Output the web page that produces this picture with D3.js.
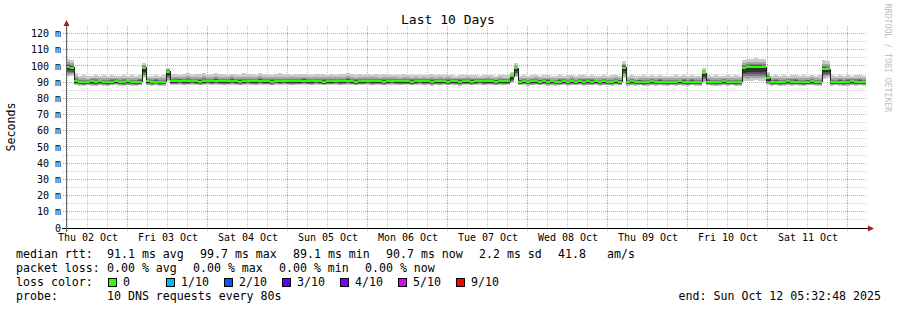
<!DOCTYPE html>
<html><head><meta charset="utf-8">
<script src="https://cdn.jsdelivr.net/npm/d3@7"></script>
<style>
html,body{margin:0;padding:0;background:#fff;}
svg{display:block;font-family:"DejaVu Sans Mono",monospace;}
</style></head><body>
<svg id="chart" width="897" height="310"></svg>
<script>
// ---------- data ----------
const title = "Last 10 Days";
const yAxisLabel = "Seconds";
const watermark = "RRDTOOL / TOBI OETIKER";
const startTime = Date.UTC(2025, 9, 2, 5, 32, 48);
const endTime = Date.UTC(2025, 9, 12, 5, 32, 48);
const binMinutes = 72;
const dayLabels = ["Thu 02 Oct","Fri 03 Oct","Sat 04 Oct","Sun 05 Oct","Mon 06 Oct","Tue 07 Oct","Wed 08 Oct","Thu 09 Oct","Fri 10 Oct","Sat 11 Oct"];
const yTickValues = [0,10,20,30,40,50,60,70,80,90,100,110,120];
const yMax = 123.4;

// median rtt (ms) per 72-minute bin
const median = [
 99.4, 99.0, 90.6,
 90.3, 90.0, 90.2, 90.4, 90.1, 90.5, 90.2, 90.0, 90.3, 90.6, 90.2, 90.1, 90.4, 90.2, 90.0, 90.3,
 98.8,
 90.4, 90.1, 90.3, 90.0, 90.2,
 96.5,
 90.5, 90.6, 90.9, 90.4, 90.6, 90.8, 90.5, 90.3, 90.6, 90.7,
 90.5, 90.8, 90.6, 90.4, 90.5, 90.9, 90.6, 90.3, 90.5, 90.7,
 90.6, 90.4, 90.8, 90.5, 90.6, 90.3, 90.7, 90.5, 90.8, 90.6,
 90.4, 90.6, 90.5, 90.9, 90.6, 90.4, 90.7, 90.5, 90.3, 90.6,
 90.5, 90.7, 90.4, 90.6, 90.8, 90.5, 90.3, 90.6, 90.5, 90.7,
 90.4, 90.6, 90.5, 90.3, 90.6, 90.8, 90.5, 90.4, 90.6, 90.5,
 90.3, 90.5, 90.7, 90.4, 90.6, 90.2, 90.5, 90.4, 90.6, 90.3,
 90.5, 90.4, 90.2, 90.6, 90.5, 90.3, 90.5, 90.7, 90.4, 90.6,
 90.5, 90.3, 90.6, 90.4, 90.5,
 93.5, 98.6,
 90.3, 90.5, 90.2, 90.4, 90.6, 90.3, 90.5, 90.2, 90.4, 90.1, 90.3, 90.5, 90.2, 90.4, 90.3, 90.6, 90.2, 90.4, 90.3, 90.5, 90.1, 90.4, 90.3, 90.2, 90.5, 90.3,
 99.0,
 90.2, 90.4, 90.1, 90.3, 90.0, 90.2, 90.4, 90.1, 90.3, 90.2, 90.0, 90.3, 90.1, 90.4, 90.2, 90.0, 90.3, 90.1, 90.2,
 95.5,
 90.3, 90.1, 90.0, 90.2, 90.4, 90.1, 90.3, 90.0, 90.2,
 98.6, 99.2, 99.4, 99.3, 99.5, 99.1,
 92.5,
 90.1, 90.3, 90.0, 90.2, 90.4, 90.1, 90.3, 90.2, 90.0, 90.3, 90.4, 90.1, 90.2,
 98.4, 98.0,
 90.1, 90.3, 90.2, 90.0, 90.2, 90.4, 90.1, 90.3, 90.2
];
// lowest ping (ms) per bin
const pingLow = [
 93.5, 94.0, 88.2,
 87.9, 87.7, 88.0, 87.8, 87.6, 88.1, 87.9, 87.7, 88.0, 88.2, 87.8, 87.6, 88.0, 87.9, 87.7, 88.0,
 92.5,
 88.0, 87.8, 88.1, 87.7, 87.9,
 90.5,
 88.2, 88.3, 88.5, 88.1, 88.3, 88.4, 88.2, 88.0, 88.3, 88.4,
 88.2, 88.5, 88.3, 88.1, 88.2, 88.5, 88.3, 88.0, 88.2, 88.4,
 88.3, 88.1, 88.5, 88.2, 88.3, 88.0, 88.4, 88.2, 88.5, 88.3,
 88.1, 88.3, 88.2, 88.5, 88.3, 88.1, 88.4, 88.2, 88.0, 88.3,
 88.2, 88.4, 88.1, 88.3, 88.5, 88.2, 88.0, 88.3, 88.2, 88.4,
 88.1, 88.3, 88.2, 88.0, 88.3, 88.5, 88.2, 88.1, 88.3, 88.2,
 88.0, 88.2, 88.4, 88.1, 88.3, 87.9, 88.2, 88.1, 88.3, 88.0,
 88.2, 88.1, 87.9, 88.3, 88.2, 88.0, 88.2, 88.4, 88.1, 88.3,
 88.2, 88.0, 88.3, 88.1, 88.2,
 89.5, 93.0,
 88.0, 88.2, 87.9, 88.1, 88.3, 88.0, 88.2, 87.9, 88.1, 87.8, 88.0, 88.2, 87.9, 88.1, 88.0, 88.3, 87.9, 88.1, 88.0, 88.2, 87.8, 88.1, 88.0, 87.9, 88.2, 88.0,
 92.8,
 87.9, 88.1, 87.8, 88.0, 87.7, 87.9, 88.1, 87.8, 88.0, 87.9, 87.7, 88.0, 87.8, 88.1, 87.9, 87.7, 88.0, 87.8, 87.9,
 90.0,
 88.0, 87.8, 87.7, 87.9, 88.1, 87.8, 88.0, 87.7, 87.9,
 91.0, 90.6, 90.8, 91.2, 90.7, 91.0,
 88.3,
 87.8, 88.0, 87.7, 87.9, 88.1, 87.8, 88.0, 87.9, 87.7, 88.0, 88.1, 87.8, 87.9,
 92.0, 92.5,
 87.8, 88.0, 87.9, 87.7, 87.9, 88.1, 87.8, 88.0, 87.9
];
// highest ping (ms) per bin
const pingHigh = [
 104.2, 103.8, 95.5,
 93.8, 94.3, 93.6, 94.0, 94.5, 93.7, 94.1, 93.9, 94.4, 93.6, 94.0, 94.6, 93.8, 94.2, 93.9, 94.3,
 102.0,
 94.0, 93.7, 94.4, 93.9, 94.1,
 98.8,
 94.8, 95.3, 94.6, 95.0, 95.5, 94.7, 95.1, 94.9, 95.4, 94.6,
 95.0, 95.6, 94.8, 95.2, 94.7, 95.3, 95.0, 94.6, 95.4, 94.9,
 95.1, 94.7, 95.5, 94.9, 95.2, 94.6, 95.0, 95.4, 94.8, 95.1,
 94.7, 95.0, 95.3, 94.8, 95.2, 94.6, 95.1, 94.9, 95.3, 94.7,
 95.0, 94.6, 95.2, 94.8, 95.4, 94.9, 94.5, 95.0, 94.7, 95.1,
 94.6, 94.9, 94.4, 94.8, 95.0, 94.5, 94.7, 94.3, 94.8, 94.6,
 94.4, 94.7, 94.2, 94.6, 94.3, 94.8, 94.1, 94.5, 94.2, 94.6,
 94.3, 94.0, 94.5, 94.2, 94.6, 94.1, 94.4, 94.0, 94.3, 94.5,
 94.2, 94.0, 94.4, 94.1, 94.3,
 96.5, 101.5,
 94.0, 94.3, 93.8, 94.2, 94.5, 93.9, 94.1, 94.4, 93.7, 94.0, 94.3, 93.9, 94.2, 94.6, 93.8, 94.1, 94.4, 93.9, 94.2, 93.7, 94.0, 94.3, 93.8, 94.1, 94.5, 93.9,
 102.8,
 93.9, 94.2, 93.6, 94.0, 94.4, 93.8, 94.1, 93.7, 94.3, 93.9, 94.0, 93.6, 94.2, 93.8, 94.5, 93.9, 94.1, 93.7, 94.0,
 98.5,
 94.1, 93.8, 94.3, 93.9, 94.0, 94.4, 93.7, 94.1, 93.9,
 103.8, 104.5, 104.2, 104.6, 104.0, 104.3,
 96.5,
 94.0, 94.4, 93.8, 94.2, 93.9, 94.5, 94.1, 93.7, 94.3, 94.0, 94.6, 93.9, 94.2,
 103.5, 102.8,
 94.2, 93.8, 94.4, 94.0, 94.3, 93.9, 94.5, 94.1, 94.0
];

const lossLevels = ["0","1/10","2/10","3/10","4/10","5/10","9/10"];
const lossColors = ["#26ff00","#00b8ff","#0059ff","#5e00ff","#7e00ff","#dd00ff","#ff0000"];
const rttStats = ["median rtt:","91.1 ms avg","99.7 ms max","89.1 ms min","90.7 ms now","2.2 ms sd","41.8","am/s"];
const lossStats = ["packet loss:","0.00 % avg","0.00 % max","0.00 % min","0.00 % now"];
const probeText = ["probe:","10 DNS requests every 80s"];
const endText = "end: Sun Oct 12 05:32:48 2025";

// ---------- style ----------
const smokeShades = ["#cacaca","#a4a4a4","#7e7e7e","#585858","#323232"];
const fracUp = [1, 0.6, 0.35, 0.2, 0.1];
const fracDown = [1, 0.82, 0.65, 0.5, 0.36];

const svg = d3.select("#chart");
const pL = 66, pR = 866, pT = 28, pB = 228;
const x = d3.scaleUtc().domain([startTime, endTime]).range([pL, pR]);
const y = d3.scaleLinear().domain([0, yMax]).range([pB, pT]);
const px = v => Math.floor(v) + 0.5;

const binMs = binMinutes * 60000;
const data = median.map((m, i) => ({t: startTime + i * binMs, m, lo: pingLow[i], hi: pingHigh[i]}));
data.push(Object.assign({}, data[data.length - 1], {t: endTime}));

// grid
const grid = svg.append("g").attr("shape-rendering", "crispEdges");
const sixH = d3.utcHour.every(6).range(new Date(startTime), new Date(endTime)).filter(d => d.getUTCHours() !== 0);
const days = d3.utcDay.range(new Date(startTime), new Date(endTime));
grid.selectAll(".vmin").data(sixH).join("line")
  .attr("x1", d => px(x(d))).attr("x2", d => px(x(d)))
  .attr("y1", 26).attr("y2", 231)
  .attr("stroke", "#c8c8c8").attr("stroke-dasharray", "1,1");
const hMinor = d3.range(5, 125, 10);
grid.selectAll(".hmin").data(hMinor).join("line")
  .attr("x1", 63).attr("x2", pR)
  .attr("y1", d => px(y(d))).attr("y2", d => px(y(d)))
  .attr("stroke", "#c8c8c8").attr("stroke-dasharray", "1,1");
grid.selectAll(".vmaj").data(days).join("line")
  .attr("x1", d => px(x(d))).attr("x2", d => px(x(d)))
  .attr("y1", 26).attr("y2", 231)
  .attr("stroke", "#e69a9a").attr("stroke-dasharray", "1,1");
grid.selectAll(".hmaj").data(yTickValues.filter(v => v > 0)).join("line")
  .attr("x1", 63).attr("x2", pR)
  .attr("y1", d => px(y(d))).attr("y2", d => px(y(d)))
  .attr("stroke", "#e69a9a").attr("stroke-dasharray", "1,1");

// smoke
const plot = svg.append("g").attr("shape-rendering", "crispEdges");
smokeShades.forEach((c, k) => {
  const area = d3.area().curve(d3.curveStepAfter)
    .x(d => x(d.t))
    .y0(d => y(d.m - (d.m - d.lo) * fracDown[k]))
    .y1(d => y(d.m + (d.hi - d.m) * fracUp[k]));
  plot.append("path").datum(data).attr("d", area).attr("fill", c);
});
// median line
plot.append("path").datum(data)
  .attr("d", d3.line().curve(d3.curveStepAfter).x(d => x(d.t)).y(d => px(y(d.m))))
  .attr("fill", "none").attr("stroke", "#202020").attr("stroke-width", 1);
// loss-coloured median band
const sw = yMax / 200;
plot.append("path").datum(data)
  .attr("d", d3.area().curve(d3.curveStepAfter).x(d => x(d.t)).y0(d => y(d.m - sw)).y1(d => y(d.m + sw)))
  .attr("fill", lossColors[0]);

// axes
const yAxis = d3.axisLeft(y).tickValues(yTickValues).tickSize(0).tickPadding(5)
  .tickFormat(d => d === 0 ? "0" : d + " m");
const gy = svg.append("g").attr("transform", `translate(${pL},0)`).call(yAxis);
gy.select(".domain").remove();
gy.selectAll("text").attr("font-family", "DejaVu Sans Mono").attr("font-size", 10).attr("fill", "#000");

const noons = days.map(d => new Date(+d - 12 * 3600000));
const xAxis = d3.axisBottom(x).tickValues(noons).tickSize(0).tickPadding(6)
  .tickFormat((d, i) => dayLabels[i]);
const gx = svg.append("g").attr("transform", `translate(0,${pB})`).call(xAxis);
gx.select(".domain").remove();
gx.selectAll("text").attr("font-family", "DejaVu Sans Mono").attr("font-size", 10).attr("fill", "#000");

const axes = svg.append("g").attr("shape-rendering", "crispEdges");
axes.append("line").attr("x1", 62).attr("x2", 869).attr("y1", px(pB)).attr("y2", px(pB)).attr("stroke", "#000");
axes.append("line").attr("x1", px(pL)).attr("x2", px(pL)).attr("y1", 232).attr("y2", 24).attr("stroke", "#666");
svg.append("path").attr("d", `M868,${px(pB) - 3}L874,${px(pB)}L868,${px(pB) + 3}Z`).attr("fill", "#a02020");
svg.append("path").attr("d", `M${px(pL) - 3},26L${px(pL)},20L${px(pL) + 3},26Z`).attr("fill", "#a02020");

// texts
svg.append("text").attr("x", 448).attr("y", 24).attr("text-anchor", "middle")
  .attr("font-size", 13).text(title);
svg.append("text").attr("transform", "translate(15,127) rotate(-90)").attr("text-anchor", "middle")
  .attr("font-size", 11.6).text(yAxisLabel);
svg.append("text").attr("transform", "translate(885,58) rotate(90)").attr("text-anchor", "middle")
  .attr("font-size", 8.2).attr("fill", "#c0c0c0").text(watermark);

const fs = 11.6;
const rttX = [16, 107, 200, 293, 386, 479, 558, 607];
rttStats.forEach((s, i) => svg.append("text").attr("x", rttX[i]).attr("y", 258).attr("font-size", fs).text(s));
const lossX = [16, 107, 193, 279, 365];
lossStats.forEach((s, i) => svg.append("text").attr("x", lossX[i]).attr("y", 272).attr("font-size", fs).text(s));
svg.append("text").attr("x", 16).attr("y", 286).attr("font-size", fs).text("loss color:");
lossLevels.forEach((s, i) => {
  const bx = 108 + i * 58;
  svg.append("rect").attr("x", bx + 0.5).attr("y", 278.5).attr("width", 8).attr("height", 8)
    .attr("fill", lossColors[i]).attr("stroke", "#000").attr("shape-rendering", "crispEdges");
  svg.append("text").attr("x", bx + 15).attr("y", 286).attr("font-size", fs).text(s);
});
svg.append("text").attr("x", 16).attr("y", 300).attr("font-size", fs).text(probeText[0]);
svg.append("text").attr("x", 107).attr("y", 300).attr("font-size", fs).text(probeText[1]);
svg.append("text").attr("x", 881).attr("y", 300).attr("text-anchor", "end").attr("font-size", fs).text(endText);
</script>
</body></html>
